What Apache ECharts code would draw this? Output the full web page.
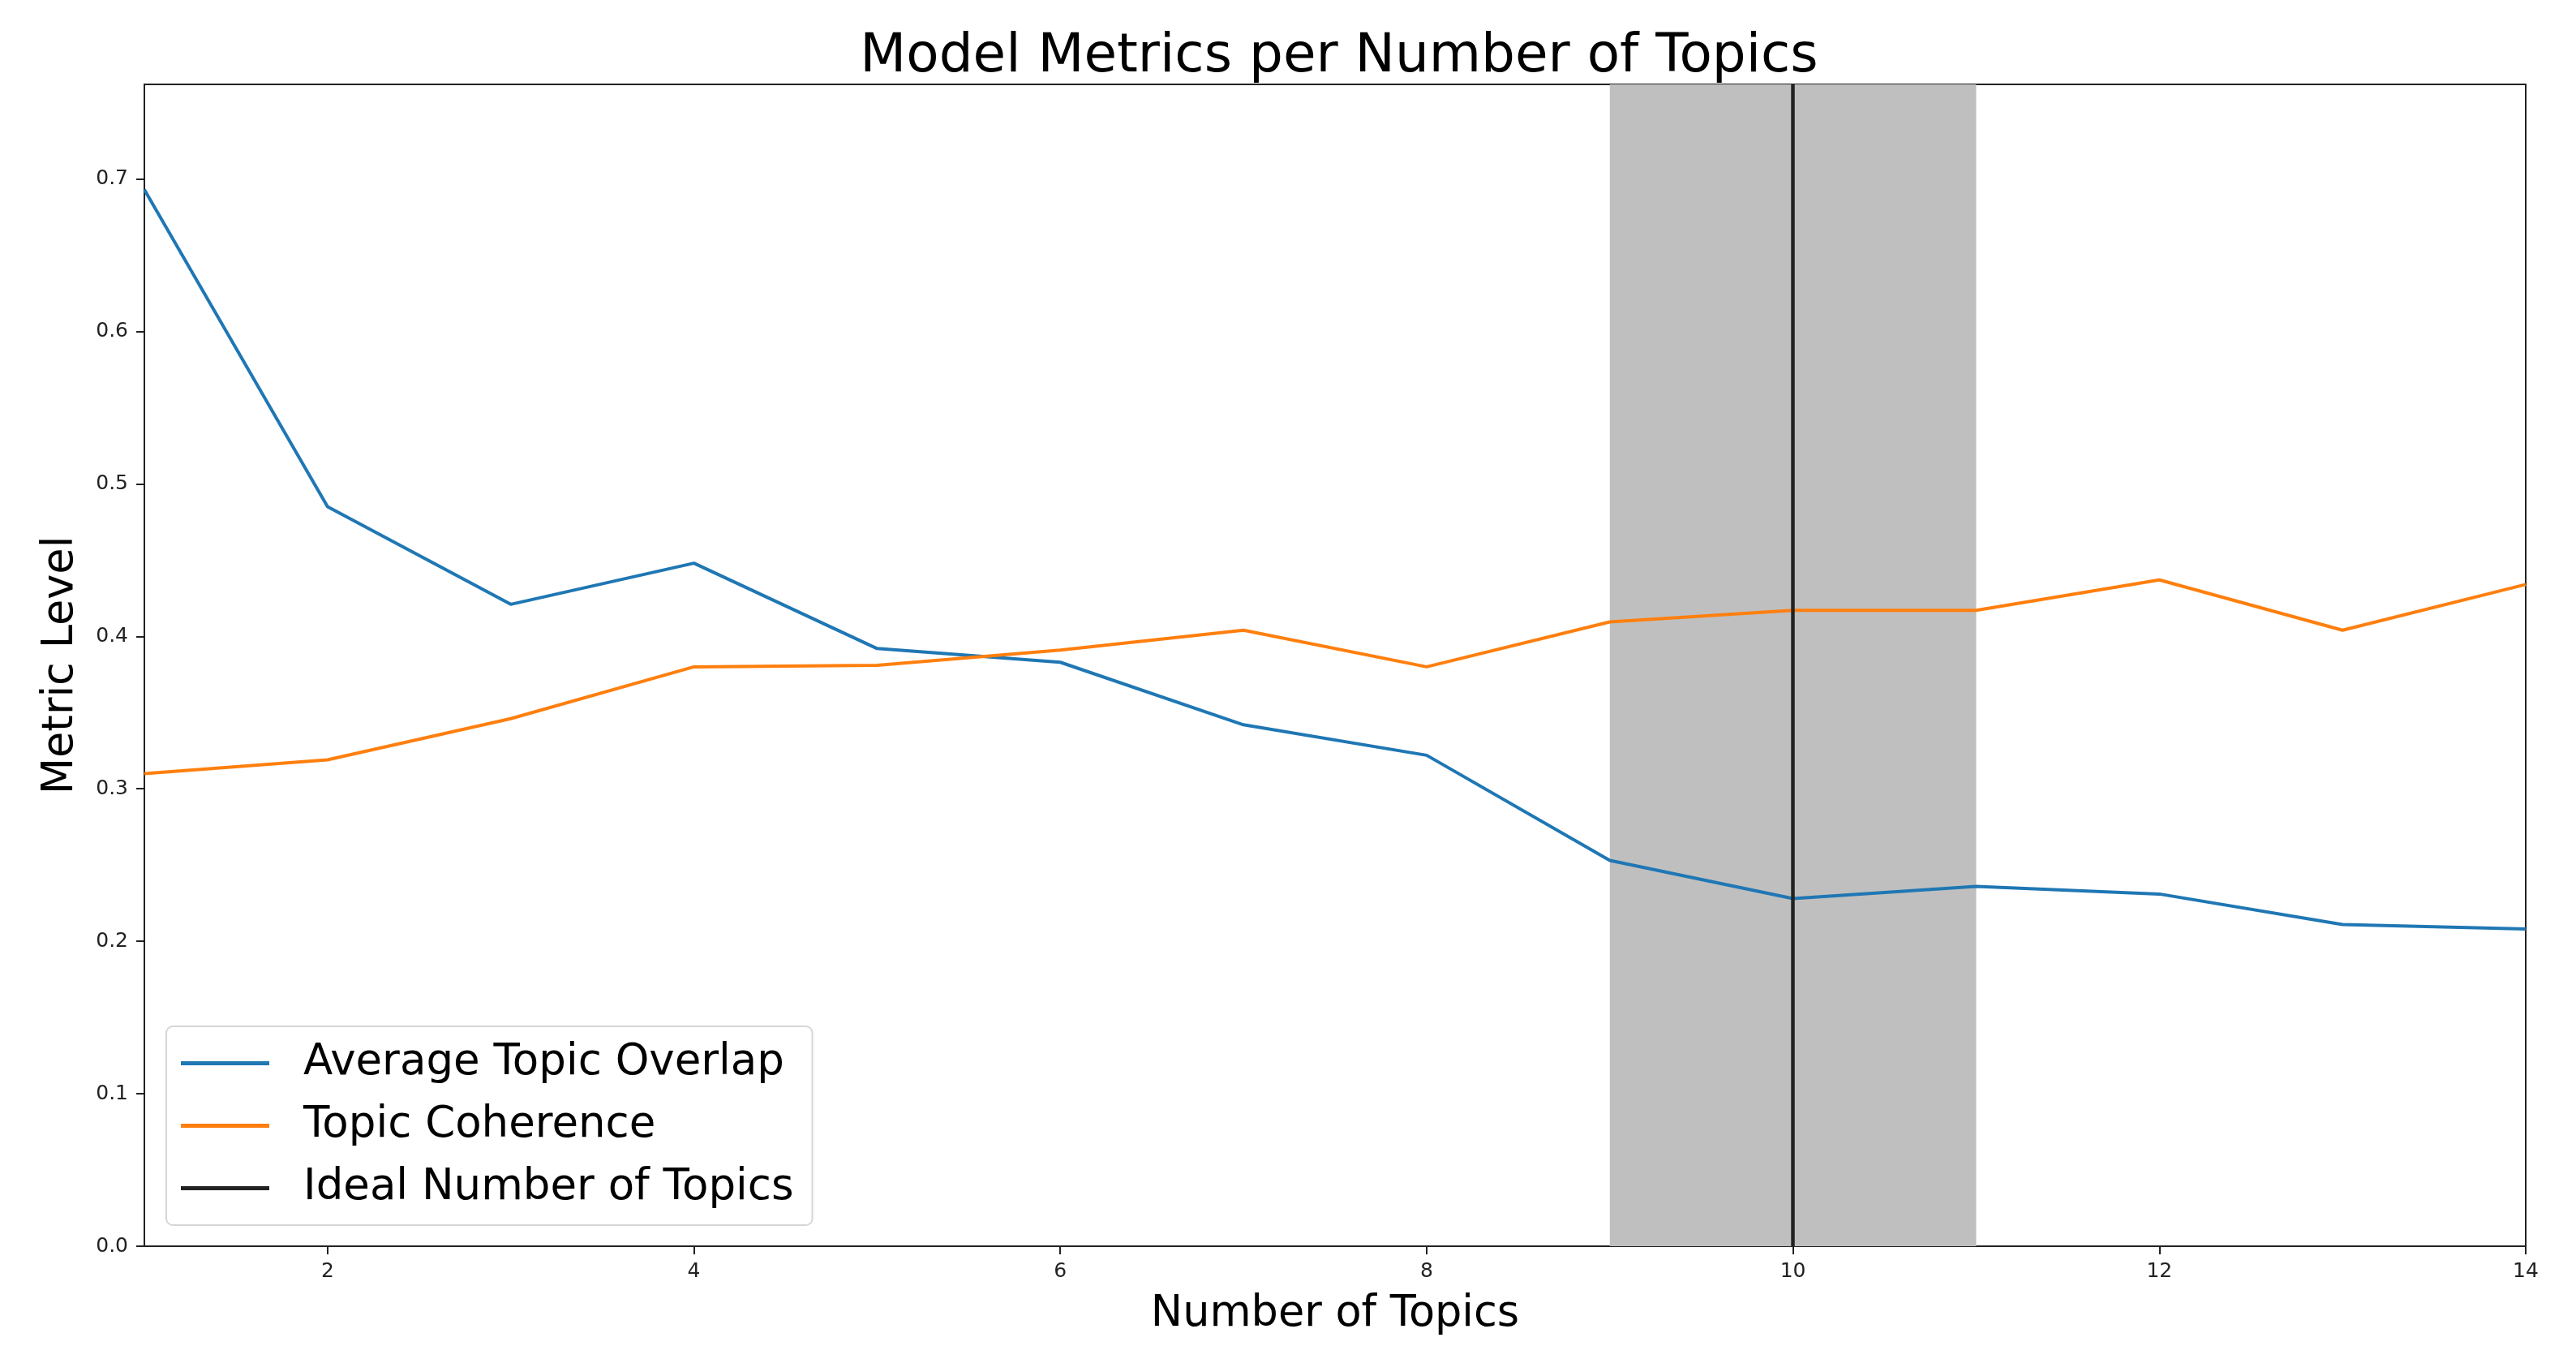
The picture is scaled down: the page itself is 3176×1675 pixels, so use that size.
<!DOCTYPE html>
<html>
<head>
<meta charset="utf-8">
<script src="https://cdn.jsdelivr.net/npm/echarts@6/dist/echarts.min.js"></script>
<style>
  html, body { margin: 0; padding: 0; background: #fff; }
  #chart { width: 3176px; height: 1675px; }
</style>
</head>
<body>
<div id="chart"></div>
<script>
// ---- data ----
const numTopics = [1, 2, 3, 4, 5, 6, 7, 8, 9, 10, 11, 12, 13, 14];
const avgTopicOverlap = [0.693, 0.485, 0.421, 0.448, 0.392, 0.383, 0.342, 0.322, 0.253, 0.228, 0.236, 0.231, 0.211, 0.208];
const topicCoherence = [0.310, 0.319, 0.346, 0.380, 0.381, 0.391, 0.404, 0.380, 0.4095, 0.417, 0.417, 0.437, 0.404, 0.434];
const idealTopics = 10;
const idealRange = [9, 11];
const xTickValues = [2, 4, 6, 8, 10, 12, 14];
const seriesNames = ['Average Topic Overlap', 'Topic Coherence', 'Ideal Number of Topics'];

const FONT = 'DejaVu Sans';
const chart = echarts.init(document.getElementById('chart'), null, { renderer: 'canvas' });

const pairs = (ys) => numTopics.map((x, i) => [x, ys[i]]);

chart.setOption({
  animation: false,
  backgroundColor: '#ffffff',
  title: {
    text: 'Model Metrics per Number of Topics',
    left: 1646,
    textAlign: 'center',
    top: 33,
    textStyle: { fontFamily: FONT, fontSize: 66, fontWeight: 'normal', color: '#000' }
  },
  grid: {
    left: 178, right: 62, top: 104, bottom: 139,
    show: true, borderColor: '#222', borderWidth: 2, backgroundColor: 'transparent'
  },
  legend: {
    orient: 'vertical',
    left: 205,
    top: 1265,
    data: seriesNames,
    icon: 'rect',
    itemWidth: 109,
    itemHeight: 5,
    itemGap: 16,
    padding: [15, 23, 15, 18],
    backgroundColor: 'rgba(255,255,255,0.8)',
    borderColor: '#d6d6d6',
    borderWidth: 2,
    borderRadius: 8,
    textStyle: { fontFamily: FONT, fontSize: 53, color: '#000', lineHeight: 61, padding: [0, 0, 0, 37] }
  },
  xAxis: {
    type: 'value',
    min: 1,
    max: 14,
    name: 'Number of Topics',
    nameLocation: 'middle',
    nameGap: 58,
    nameTextStyle: { fontFamily: FONT, fontSize: 52.5, color: '#000' },
    splitLine: { show: false },
    axisLine: { show: true, onZero: false, lineStyle: { color: '#222', width: 2 } },
    axisTick: { show: true, length: 10, lineStyle: { color: '#222', width: 2 }, customValues: xTickValues },
    axisLabel: { fontFamily: FONT, fontSize: 25, color: '#222', margin: 19, customValues: xTickValues }
  },
  yAxis: {
    type: 'value',
    min: 0,
    max: 0.762,
    interval: 0.1,
    name: 'Metric Level',
    nameLocation: 'middle',
    nameGap: 76,
    nameTextStyle: { fontFamily: FONT, fontSize: 52.5, color: '#000' },
    splitLine: { show: false },
    axisLine: { show: true, lineStyle: { color: '#222', width: 2 } },
    axisTick: { show: true, length: 10, lineStyle: { color: '#222', width: 2 } },
    axisLabel: {
      fontFamily: FONT, fontSize: 25, color: '#222', margin: 20, showMaxLabel: false,
      formatter: (v) => v.toFixed(1)
    }
  },
  series: [
    {
      name: '__span',
      type: 'line',
      data: [],
      z: 1,
      silent: true,
      markArea: {
        silent: true,
        itemStyle: { color: '#bfbfbf', opacity: 1 },
        data: [[{ xAxis: idealRange[0] }, { xAxis: idealRange[1] }]]
      }
    },
    {
      name: seriesNames[0],
      type: 'line',
      data: pairs(avgTopicOverlap),
      symbol: 'none',
      z: 3,
      color: '#1f77b4',
      lineStyle: { color: '#1f77b4', width: 4 }
    },
    {
      name: seriesNames[1],
      type: 'line',
      data: pairs(topicCoherence),
      symbol: 'none',
      z: 3,
      color: '#ff7f0e',
      lineStyle: { color: '#ff7f0e', width: 4 }
    },
    {
      name: seriesNames[2],
      type: 'line',
      data: [],
      symbol: 'none',
      z: 4,
      color: '#222222',
      lineStyle: { color: '#222222', width: 4.5 },
      markLine: {
        silent: true,
        symbol: ['none', 'none'],
        label: { show: false },
        lineStyle: { color: '#222222', width: 4.5, type: 'solid' },
        data: [{ xAxis: idealTopics }]
      }
    }
  ]
});
</script>
</body>
</html>
